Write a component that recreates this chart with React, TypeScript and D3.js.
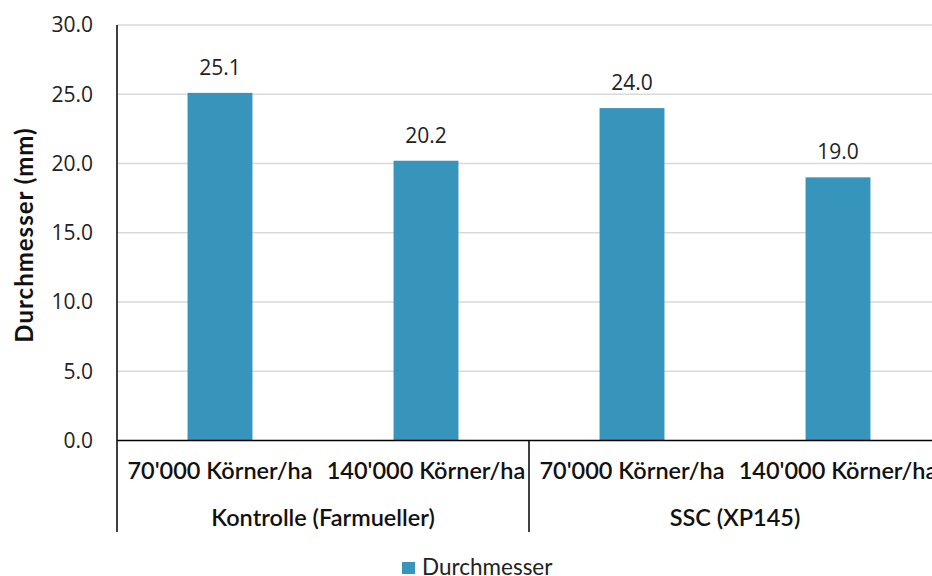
import React from 'react';
import * as d3 from 'd3';

const categories = ["70'000 Körner/ha", "140'000 Körner/ha", "70'000 Körner/ha", "140'000 Körner/ha"];
const groups = ['Kontrolle (Farmueller)', 'SSC (XP145)'];
const values = [25.1, 20.2, 24.0, 19.0];
const yTicks = [0, 5, 10, 15, 20, 25, 30];

const W = 932;
const H = 576;
const BAR = '#3795bc';
const numFont = '"Open Sans", "Noto Sans", sans-serif';
const catFont = 'Lato, "Noto Sans", sans-serif';

const App = () => {
  const left = 117;
  const right = 941;
  const top = 25;
  const bottom = 440.5;

  const x = d3.scaleBand<number>().domain(d3.range(categories.length)).range([left, right]).paddingInner(0).paddingOuter(0);
  const y = d3.scaleLinear().domain([0, 30]).range([bottom, top]);
  const bw = x.bandwidth() * 0.315;
  const groupW = x.bandwidth() * 2;

  return (
    <svg width={W} height={H} style={{ position: 'absolute', left: 0, top: 0, background: '#fff' }}>
      {yTicks.map(t => (
        <g key={t}>
          {t > 0 && <line x1={left} x2={W} y1={y(t)} y2={y(t)} stroke="#d9d9d9" strokeWidth={1.5} />}
          <text x={93} y={y(t)} dy="0.35em" textAnchor="end" fontFamily={numFont} fontSize={21} fill="#222">
            {t.toFixed(1)}
          </text>
        </g>
      ))}

      {values.map((v, i) => {
        const cx = (x(i) as number) + x.bandwidth() / 2;
        return (
          <g key={i}>
            <rect x={cx - bw / 2} y={y(v)} width={bw} height={bottom - y(v)} fill={BAR} />
            <text x={cx} y={y(v) - 18} textAnchor="middle" fontFamily={numFont} fontSize={21} fill="#222">
              {v.toFixed(1)}
            </text>
            <text x={cx} y={471} dy="0.35em" textAnchor="middle" fontFamily={catFont} fontWeight={600} fontSize={23.5} fill="#111">
              {categories[i]}
            </text>
          </g>
        );
      })}

      {groups.map((g, gi) => (
        <text key={g} x={left + groupW * gi + groupW / 2} y={518} dy="0.35em" textAnchor="middle" fontFamily={catFont} fontWeight={600} fontSize={23.5} fill="#111">
          {g}
        </text>
      ))}

      <line x1={left} x2={W} y1={bottom} y2={bottom} stroke="#000" strokeWidth={1.5} />
      {[0, 1, 2].map(k => (
        <line key={k} x1={left + groupW * k} x2={left + groupW * k} y1={k === 0 ? top : bottom} y2={532} stroke="#000" strokeWidth={1.5} />
      ))}

      <text transform="translate(25,235) rotate(-90)" textAnchor="middle" dy="0.35em" fontFamily={catFont} fontWeight={700} fontSize={24} letterSpacing={1} fill="#111">
        Durchmesser (mm)
      </text>

      <rect x={402} y={562} width={13} height={12} fill={BAR} />
      <text x={422} y={575} fontFamily={catFont} fontSize={22.5} fill="#222">Durchmesser</text>
    </svg>
  );
};

export default App;
